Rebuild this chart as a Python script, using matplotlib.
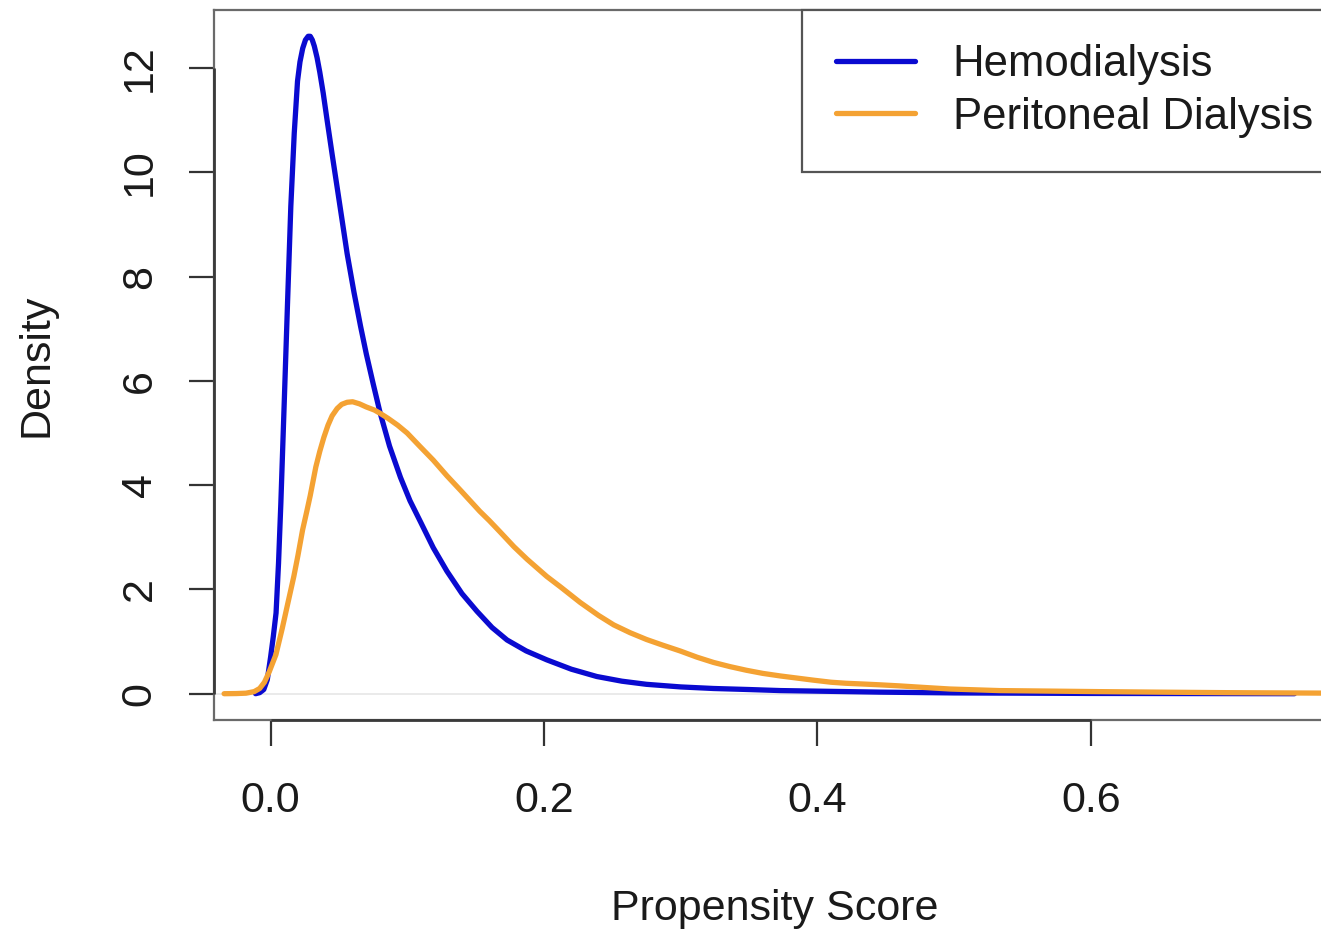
import matplotlib
matplotlib.use("Agg")
import matplotlib.pyplot as plt

plt.rcParams['font.family'] = ['Liberation Sans', 'DejaVu Sans']

# ---- data ----
hd_x = [-0.011, -0.008, -0.005, -0.0024, 0.0000, 0.0020, 0.0040, 0.0058, 0.0075,
        0.0100, 0.0124, 0.0148, 0.0173, 0.0197, 0.0215, 0.0235, 0.0255, 0.0275,
        0.0290, 0.0305, 0.0320, 0.0340, 0.0360, 0.0385, 0.0414, 0.0450, 0.0487,
        0.0525, 0.0560, 0.0610, 0.0658, 0.0700, 0.0750, 0.0800, 0.0870, 0.0950,
        0.1020, 0.1096, 0.1190, 0.1290, 0.1400, 0.1510, 0.1620, 0.1730, 0.1870,
        0.2020, 0.2200, 0.2386, 0.2570, 0.2750, 0.3000, 0.3240, 0.3500, 0.3730,
        0.4100, 0.4460, 0.5000, 0.6000, 0.7490]
hd_y = [0.00, 0.02, 0.08, 0.27, 0.70, 1.10, 1.55, 2.50, 3.65,
        5.60, 7.50, 9.35, 10.75, 11.75, 12.12, 12.38, 12.54, 12.61,
        12.61, 12.54, 12.42, 12.20, 11.92, 11.52, 10.99, 10.35, 9.71,
        9.05, 8.44, 7.70, 7.05, 6.52, 5.95, 5.40, 4.75, 4.15,
        3.70, 3.30, 2.80, 2.35, 1.92, 1.58, 1.27, 1.03, 0.82,
        0.65, 0.47, 0.33, 0.24, 0.18, 0.13, 0.10, 0.08, 0.06,
        0.045, 0.03, 0.015, 0.005, 0.00]

pd_x = [-0.034, -0.025, -0.018, -0.012, -0.008, -0.0045, -0.001, 0.0039, 0.0085,
        0.0136, 0.0170, 0.0200, 0.0234, 0.0265, 0.0290, 0.0331, 0.0360, 0.0390,
        0.0420, 0.0450, 0.0487, 0.0520, 0.0560, 0.0600, 0.0650, 0.0700, 0.0760,
        0.0800, 0.0860, 0.0930, 0.0999, 0.1090, 0.1190, 0.1290, 0.1390, 0.1460,
        0.1530, 0.1600, 0.1680, 0.1780, 0.1876, 0.2020, 0.2120, 0.2265, 0.2400,
        0.2510, 0.2630, 0.2750, 0.2870, 0.2996, 0.3120, 0.3240, 0.3360, 0.3480,
        0.3600, 0.3730, 0.3850, 0.3970, 0.4100, 0.4210, 0.4340, 0.4460, 0.4600,
        0.4780, 0.4970, 0.5330, 0.5700, 0.6060, 0.6500, 0.7000, 0.7800]
pd_y = [0.00, 0.003, 0.01, 0.04, 0.10, 0.22, 0.42, 0.75, 1.25,
        1.85, 2.25, 2.65, 3.14, 3.50, 3.80, 4.35, 4.65, 4.92,
        5.15, 5.33, 5.47, 5.55, 5.59, 5.60, 5.56, 5.50, 5.44,
        5.38, 5.28, 5.15, 5.00, 4.75, 4.48, 4.18, 3.90, 3.70,
        3.50, 3.32, 3.10, 2.82, 2.58, 2.25, 2.05, 1.75, 1.50,
        1.32, 1.17, 1.04, 0.93, 0.82, 0.70, 0.60, 0.52, 0.45,
        0.39, 0.34, 0.30, 0.26, 0.22, 0.20, 0.185, 0.17, 0.15,
        0.12, 0.09, 0.06, 0.05, 0.04, 0.03, 0.02, 0.01]

series_labels = ["Hemodialysis", "Peritoneal Dialysis"]
x_ticks = [0.0, 0.2, 0.4, 0.6]
x_tick_labels = ["0.0", "0.2", "0.4", "0.6"]
y_ticks = [0, 2, 4, 6, 8, 10, 12]
x_label = "Propensity Score"
y_label = "Density"

# ---- styles ----
BLUE = "#0a0ad0"
ORANGE = "#f4a233"
FS = 31
LEG_FS = 31.5
LW = 3.8
W, H = 1321, 932
AX_W_PX = 1336 - 214

fig = plt.figure(figsize=(W / 100, H / 100), dpi=100)
ax = fig.add_axes([214 / W, (H - 720) / H, AX_W_PX / W, 710 / H])

# R-style 4% range expansion based on the first plotted density
xr = max(hd_x) - min(hd_x)
yr = max(hd_y) - min(hd_y)
ax.set_xlim(min(hd_x) - 0.04 * xr, max(hd_x) + 0.04 * xr)
ax.set_ylim(min(hd_y) - 0.04 * yr, max(hd_y) + 0.04 * yr)

ax.axhline(0, color="#e6e6e6", lw=1.2, zorder=1)
ax.plot(hd_x, hd_y, color=BLUE, lw=LW, solid_capstyle="round",
        solid_joinstyle="round", zorder=3, label=series_labels[0])
ax.plot(pd_x, pd_y, color=ORANGE, lw=LW, solid_capstyle="round",
        solid_joinstyle="round", zorder=4, label=series_labels[1])

for s in ax.spines.values():
    s.set_color("#6a6a6a")
    s.set_linewidth(1.6)

ax.set_xticks(x_ticks)
ax.set_xticklabels(x_tick_labels)
ax.set_yticks(y_ticks)
ax.set_yticklabels([str(v) for v in y_ticks], rotation=90, va="center")
ax.tick_params(axis="x", direction="out", length=19, width=1.6, colors="#333333",
               labelsize=FS, pad=25, labelcolor="#1a1a1a")
ax.tick_params(axis="y", direction="out", length=18, width=1.6, colors="#333333",
               labelsize=FS, pad=21, labelcolor="#1a1a1a")

# darker R-style axis lines spanning first to last tick
yl = ax.get_ylim()
xl = ax.get_xlim()
ax.hlines(yl[0], x_ticks[0], x_ticks[-1], color="#3a3a3a", lw=2.0, clip_on=False, zorder=5)
ax.vlines(xl[0], y_ticks[0], y_ticks[-1], color="#3a3a3a", lw=2.0, clip_on=False, zorder=5)

ax.set_xlabel(x_label, fontsize=FS, color="#1a1a1a")
ax.set_ylabel(y_label, fontsize=FS, color="#1a1a1a")
ax.xaxis.set_label_coords(0.5, -0.266)
ax.xaxis.label.set_va("center")
ax.yaxis.set_label_coords((37 - 214) / AX_W_PX, 0.5)
ax.yaxis.label.set_va("center")

leg = ax.legend(loc="upper right", bbox_to_anchor=(1 + 11 / AX_W_PX, 1), borderaxespad=0,
                fontsize=LEG_FS, frameon=True, fancybox=False, framealpha=1,
                edgecolor="#555555", handlelength=1.8, handletextpad=0.86,
                borderpad=0.78, labelspacing=0.26)
leg.get_frame().set_linewidth(1.6)
for line in leg.get_lines():
    line.set_linewidth(LW)
for t in leg.get_texts():
    t.set_color("#1a1a1a")

fig.savefig("out.png", dpi=100)
